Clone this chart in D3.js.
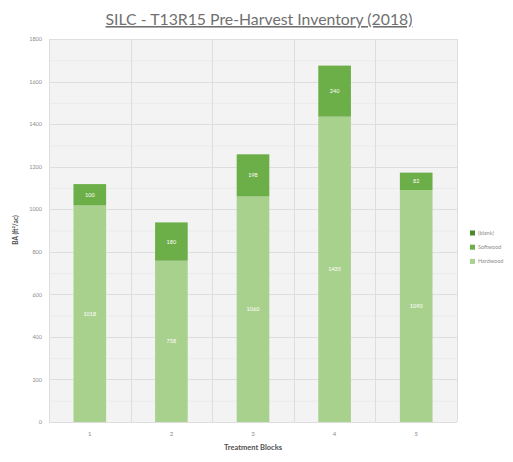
<!DOCTYPE html>
<html>
<head>
<meta charset="utf-8">
<script src="https://cdn.jsdelivr.net/npm/d3@7"></script>
<style>
  html, body { margin: 0; padding: 0; background: #fff; }
  svg { display: block; }
  text { font-family: Lato, "Open Sans", "Liberation Sans", sans-serif; }
</style>
</head>
<body>
<script>
const categories = ["1", "2", "3", "4", "5"];
const hardwood = [1018, 758, 1060, 1435, 1090];
const softwood = [100, 180, 198, 240, 82];
const blank = [0, 0, 0, 0, 0];
const hardwoodLabels = ["1018", "758", "1060", "1435", "1090"];
const softwoodLabels = ["100", "180", "198", "240", "82"];
const yTicks = [0, 200, 400, 600, 800, 1000, 1200, 1400, 1600, 1800];
const seriesNames = ["Hardwood", "Softwood", "(blank)"];
const legendNames = ["(blank)", "Softwood", "Hardwood"];
const colors = { "Hardwood": "#a9d18e", "Softwood": "#6cae47", "(blank)": "#4a8a2c" };

const W = 513, H = 462;
const margin = { left: 49, right: 56, top: 39, bottom: 40 };
const svg = d3.select("body").append("svg").attr("width", W).attr("height", H);

const x = d3.scaleBand().domain(categories).range([margin.left, W - margin.right]).paddingInner(0).paddingOuter(0);
const y = d3.scaleLinear().domain([0, 1800]).range([H - margin.bottom, margin.top]);

// plot background
svg.append("rect")
  .attr("x", x.range()[0]).attr("y", y(1800))
  .attr("width", x.range()[1] - x.range()[0]).attr("height", y(0) - y(1800))
  .attr("fill", "#f3f3f3");

// minor horizontal gridlines
const minor = d3.range(100, 1800, 200);
svg.append("g").selectAll("line").data(minor).join("line")
  .attr("x1", x.range()[0]).attr("x2", x.range()[1])
  .attr("y1", d => y(d) + 0.5).attr("y2", d => y(d) + 0.5)
  .attr("stroke", "#ebebeb").attr("stroke-width", 1);

// major horizontal gridlines
svg.append("g").selectAll("line").data(yTicks).join("line")
  .attr("x1", x.range()[0]).attr("x2", x.range()[1])
  .attr("y1", d => Math.round(y(d)) + 0.5).attr("y2", d => Math.round(y(d)) + 0.5)
  .attr("stroke", "#dedede").attr("stroke-width", 1);

// vertical gridlines at category boundaries
const bounds = categories.map(c => x(c)).concat([x.range()[1]]);
svg.append("g").selectAll("line").data(bounds).join("line")
  .attr("x1", d => Math.round(d) + 0.5).attr("x2", d => Math.round(d) + 0.5)
  .attr("y1", y(1800)).attr("y2", y(0))
  .attr("stroke", "#dedede").attr("stroke-width", 1);

// stacked bars
const data = categories.map((c, i) => ({ cat: c, "Hardwood": hardwood[i], "Softwood": softwood[i], "(blank)": blank[i] }));
const stack = d3.stack().keys(seriesNames)(data);
const barW = x.bandwidth() * 0.4;
const bars = svg.append("g");
stack.forEach(layer => {
  bars.selectAll(null).data(layer).join("rect")
    .attr("x", d => x(d.data.cat) + (x.bandwidth() - barW) / 2)
    .attr("width", barW)
    .attr("y", d => y(d[1]))
    .attr("height", d => y(d[0]) - y(d[1]))
    .attr("fill", colors[layer.key]);
});

// data labels
const lbl = svg.append("g").attr("fill", "#ffffff").attr("font-size", 5.5).attr("text-anchor", "middle");
categories.forEach((c, i) => {
  lbl.append("text")
    .attr("x", x(c) + x.bandwidth() / 2)
    .attr("y", y(hardwood[i] / 2) + 2)
    .text(hardwoodLabels[i]);
  lbl.append("text")
    .attr("x", x(c) + x.bandwidth() / 2)
    .attr("y", y(hardwood[i] + softwood[i] / 2) + 2)
    .text(softwoodLabels[i]);
});

// y axis
const yAxis = d3.axisLeft(y).tickValues(yTicks).tickFormat(d3.format("d")).tickSize(0).tickPadding(7);
const yg = svg.append("g").attr("transform", `translate(${margin.left},0)`).call(yAxis);
yg.select(".domain").remove();
yg.selectAll("text").attr("fill", "#8c8c8c").attr("font-size", 5.5);

// x axis
const xAxis = d3.axisBottom(x).tickSize(0).tickPadding(10);
const xg = svg.append("g").attr("transform", `translate(0,${y(0)})`).call(xAxis);
xg.select(".domain").remove();
xg.selectAll("text").attr("fill", "#8c8c8c").attr("font-size", 6);

// axis titles
svg.append("text")
  .attr("x", (x.range()[0] + x.range()[1]) / 2)
  .attr("y", 450)
  .attr("text-anchor", "middle")
  .attr("font-size", 7.5).attr("font-weight", "bold").attr("fill", "#505050")
  .text("Treatment Blocks");

svg.append("text")
  .attr("transform", "translate(18,230) rotate(-90)")
  .attr("text-anchor", "middle")
  .attr("font-size", 6.5).attr("font-weight", "bold").attr("fill", "#505050")
  .text("BA (ft²/ac)");

// title
svg.append("text")
  .attr("x", 259).attr("y", 25)
  .attr("text-anchor", "middle")
  .attr("font-size", 15.8).attr("fill", "#707070")
  .attr("text-decoration", "underline")
  .text("SILC - T13R15 Pre-Harvest Inventory (2018)");

// legend
const lg = svg.append("g");
legendNames.forEach((n, i) => {
  const yy = 233 + i * 14.2;
  lg.append("rect").attr("x", 470).attr("y", yy - 2.5).attr("width", 5).attr("height", 5)
    .attr("fill", colors[n]);
  lg.append("text").attr("x", 478).attr("y", yy + 2).attr("font-size", 5.5).attr("fill", "#8c8c8c").text(n);
});
</script>
</body>
</html>
